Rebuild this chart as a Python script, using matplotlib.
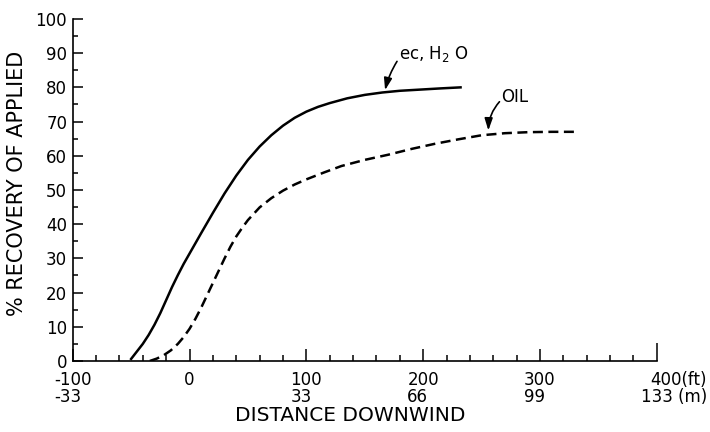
import matplotlib
matplotlib.use('Agg')
import matplotlib.pyplot as plt
from matplotlib.ticker import MultipleLocator

# curves: distance downwind (ft) vs % recovery
ec_ft = [-50, -45, -40, -35, -30, -25, -20, -15, -10, -5, 0, 10, 20, 30, 40,
         50, 60, 70, 80, 90, 100, 110, 120, 135, 150, 165, 180, 200, 215, 232]
ec_pct = [0.6, 2.8, 5.0, 7.6, 10.6, 14.0, 17.8, 21.6, 25.1, 28.4, 31.4, 37.4,
          43.3, 49.0, 54.2, 58.8, 62.7, 66.0, 68.8, 71.1, 72.9, 74.3, 75.4,
          76.8, 77.8, 78.5, 79.0, 79.4, 79.7, 80.0]

oil_ft = [-34, -28, -22, -16, -10, -5, 0, 5, 10, 15, 20, 25, 30, 35, 40, 45,
          50, 60, 70, 80, 90, 100, 115, 130, 150, 170, 190, 210, 230, 250,
          270, 290, 310, 333]
oil_pct = [0.0, 0.7, 1.7, 3.1, 5.0, 7.0, 9.4, 12.3, 15.6, 19.2, 22.8, 26.4,
           30.0, 33.4, 36.4, 38.9, 41.2, 44.9, 47.6, 49.8, 51.6, 53.1, 55.1,
           57.0, 58.8, 60.3, 62.0, 63.5, 64.8, 66.0, 66.6, 66.9, 67.0, 67.0]

x_ticks = [-100, 0, 100, 200, 300, 400]
x_labels = ['-100\n-33', '0', '100\n33', '200\n66', '300\n99', '']
y_ticks = list(range(0, 101, 10))

fig = plt.figure(figsize=(7.1, 4.32), dpi=100)
ax = fig.add_axes([0.1024, 0.1644, 0.8227, 0.7917])

ax.plot(ec_ft, ec_pct, color='black', lw=1.8, solid_joinstyle='round')
ax.plot(oil_ft, oil_pct, color='black', lw=1.8, linestyle=(0, (4, 2.2)))

ax.set_xlim(-100, 400)
ax.set_ylim(0, 100)
ax.spines['top'].set_visible(False)
ax.spines['right'].set_visible(False)
for s in ['left', 'bottom']:
    ax.spines[s].set_linewidth(1.2)

ax.set_xticks(x_ticks)
ax.set_xticklabels(x_labels, fontsize=12, linespacing=0.9)
for lbl in ax.get_xticklabels():
    lbl.set_multialignment('left')
ax.set_yticks(y_ticks)
ax.set_yticklabels([str(v) for v in y_ticks], fontsize=12)
ax.xaxis.set_minor_locator(MultipleLocator(20))
ax.yaxis.set_minor_locator(MultipleLocator(5))
ax.tick_params(which='both', direction='in', top=False, right=False, width=1.1)
ax.tick_params(axis='x', which='major', length=9, pad=7.5)
ax.tick_params(axis='x', which='minor', length=4.5)
ax.tick_params(axis='y', which='major', length=7, pad=4)
ax.tick_params(axis='y', which='minor', length=3.5)
# the last x tick is drawn taller in the original
ax.xaxis.get_major_ticks()[-1].tick1line.set_markersize(13)

ax.annotate('400(ft)\n133 (m)', xy=(1, 0), xycoords='axes fraction',
            xytext=(36, -7.5), textcoords='offset points', ha='right', va='top',
            multialignment='right', linespacing=0.9, fontsize=12)

fig.text(0.024, 0.575, '% RECOVERY OF APPLIED', rotation=90,
         ha='center', va='center', fontsize=15)
fig.text(0.494, 0.038, 'DISTANCE DOWNWIND', ha='center', va='center',
         fontsize=14.5)

# curve labels with arrows
arrow = dict(arrowstyle='-|>,head_length=0.6,head_width=0.2', color='black',
             lw=1.2, shrinkA=0, shrinkB=0, mutation_scale=12)
ax.text(179, 88.4, 'ec, H$_2$ O', fontsize=12, ha='left', va='baseline')
ax.annotate('', xy=(167.4, 79.2), xytext=(177.6, 87.6),
            arrowprops=dict(arrow, connectionstyle='arc3,rad=0.08'))
ax.text(266.5, 75.6, 'OIL', fontsize=12, ha='left', va='baseline')
ax.annotate('', xy=(255.8, 67.4), xytext=(265.3, 75.8),
            arrowprops=dict(arrow, connectionstyle='arc3,rad=0.18'))

fig.savefig('out.png', dpi=100)
